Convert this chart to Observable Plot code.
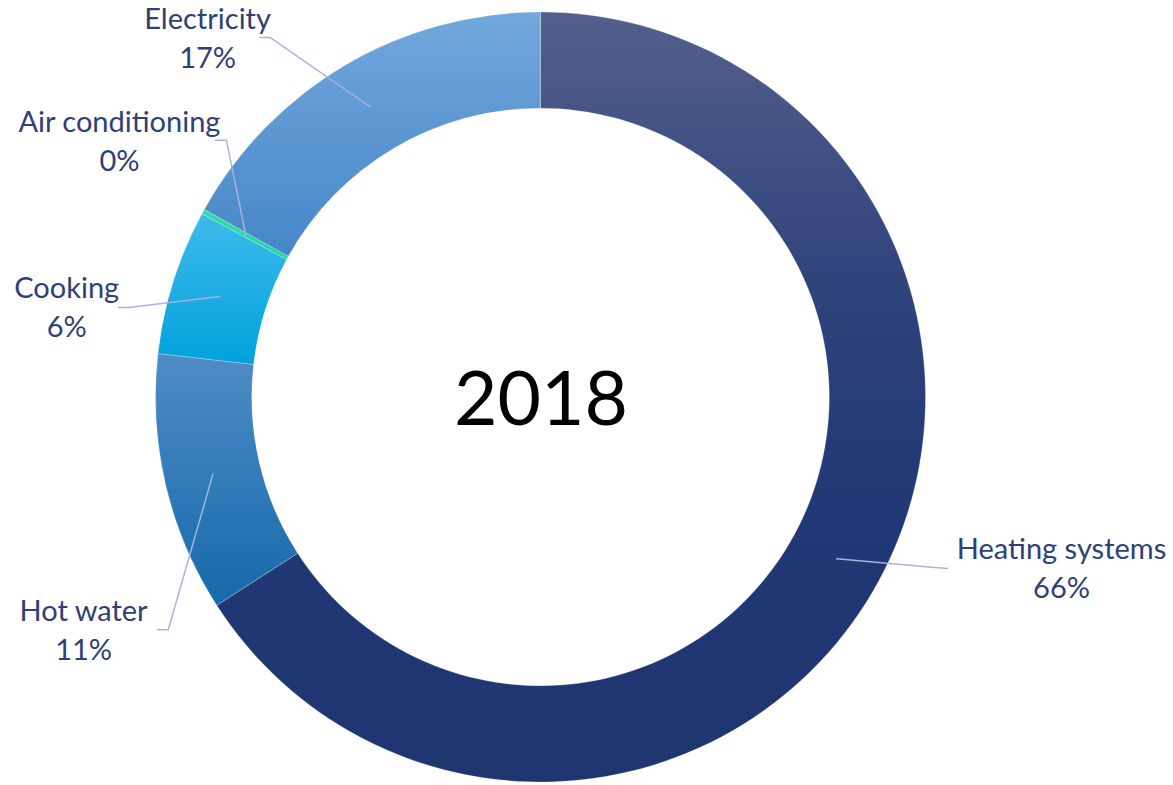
<!DOCTYPE html>
<html>
<head>
<meta charset="utf-8">
<script src="https://cdn.jsdelivr.net/npm/d3@7"></script>
<script src="https://cdn.jsdelivr.net/npm/@observablehq/plot@0.6"></script>
<style>
  html, body { margin: 0; padding: 0; background: #ffffff; }
  #chart svg { display: block; }
</style>
</head>
<body>
<div id="chart"></div>
<script>
// ---------- data ----------
const categories = ["Heating systems", "Hot water", "Cooking", "Air conditioning", "Electricity"];
const shares = [65.9, 10.9, 6.1, 0.2, 16.9];
const centerLabel = "2018";

// ---------- styles ----------
const gradientStops = [
  [[0, "#545f8c"], [0.35, "#2f437c"], [0.65, "#213876"], [1, "#1e3570"]],
  [[0, "#4f8cc6"], [1, "#1569aa"]],
  [[0, "#3fbaeb"], [1, "#00a2dc"]],
  [[0, "#2fe0a6"], [1, "#1fd69c"]],
  [[0, "#72a8dc"], [1, "#4686c8"]]
];
const textColor = "#2e4078";
const leaderColor = "#a7b3de";

// ---------- layout (unit = outer radius, center of ring = 0,0, y up) ----------
const W = 1173, H = 785;
const centerPx = [540.5, 397];
const outerPx = 385;
const innerRatio = 0.75;
// label block centre and leader elbow/end per category (unit coords)
const labelPos = [[1.352, -0.438], [-1.188, -0.598], [-1.232, 0.239], [-1.095, 0.672], [-0.866, 0.940]];
const leaderElbow = [[1.030, -0.442], [-0.968, -0.603], [-1.071, 0.234], [-0.817, 0.668], [-0.703, 0.935]];
const leaderEnd   = [[1.056, -0.444], [-0.996, -0.603], [-1.097, 0.234], [-0.846, 0.668], [-0.729, 0.935]];

// ---------- derived table ----------
const total = d3.sum(shares);
const arcs = d3.pie().sort(null).value(d => d)(shares);
const rows = categories.map((name, i) => ({
  name, value: shares[i], stops: gradientStops[i],
  a0: arcs[i].startAngle, a1: arcs[i].endAngle
}));
const midR = (1 + innerRatio) / 2;
const leaders = rows.flatMap((d, i) => {
  const m = (d.a0 + d.a1) / 2;
  return [
    {name: d.name, x: midR * Math.sin(m), y: midR * Math.cos(m)},
    {name: d.name, x: leaderElbow[i][0], y: leaderElbow[i][1]},
    {name: d.name, x: leaderEnd[i][0], y: leaderEnd[i][1]}
  ];
});
const labels = rows.map((d, i) => ({
  text: d.name + "\n" + d3.format(".0%")(d.value / total),
  x: labelPos[i][0], y: labelPos[i][1]
}));

// custom ring mark drawn through the plot's x/y scales
function ring(index, scales) {
  const {x, y} = scales;
  const cx = x(0), cy = y(0);
  const rOut = x(1) - x(0);
  const rIn = rOut * innerRatio;
  const arc = d3.arc().innerRadius(rIn).outerRadius(rOut);
  const g = d3.create("svg:g");
  const defs = g.append("defs");
  rows.forEach((d, i) => {
    const lg = defs.append("linearGradient")
      .attr("id", "seg" + i).attr("x1", 0).attr("y1", 0).attr("x2", 0).attr("y2", 1);
    d.stops.forEach(([o, c]) => lg.append("stop").attr("offset", o).attr("stop-color", c));
  });
  g.append("g").attr("transform", `translate(${cx},${cy})`)
    .selectAll("path").data(rows).join("path")
    .attr("d", d => arc({startAngle: d.a0, endAngle: d.a1}))
    .attr("fill", (d, i) => `url(#seg${i})`)
    .attr("stroke", "#ffffff").attr("stroke-width", 0.4).attr("stroke-opacity", 0.6);
  return g.node();
}

const xDomain = [-centerPx[0] / outerPx, (W - centerPx[0]) / outerPx];
const yDomain = [-(H - centerPx[1]) / outerPx, centerPx[1] / outerPx];

const chart = Plot.plot({
  width: W, height: H,
  margin: 0,
  x: {domain: xDomain, axis: null},
  y: {domain: yDomain, axis: null},
  style: {fontFamily: "Lato, 'Open Sans', sans-serif", background: "#ffffff"},
  marks: [
    ring,
    Plot.line(leaders, {x: "x", y: "y", z: "name", stroke: leaderColor, strokeWidth: 1.5}),
    Plot.text(labels, {x: "x", y: "y", text: "text", fill: textColor, fontSize: 29,
      lineHeight: 1.345, lineAnchor: "middle", textAnchor: "middle"}),
    Plot.text([centerLabel], {x: () => 0, y: () => 0, text: d => d, fill: "#000000",
      fontSize: 75, lineAnchor: "middle", textAnchor: "middle", dy: 3})
  ]
});
document.getElementById("chart").appendChild(chart);
</script>
</body>
</html>
